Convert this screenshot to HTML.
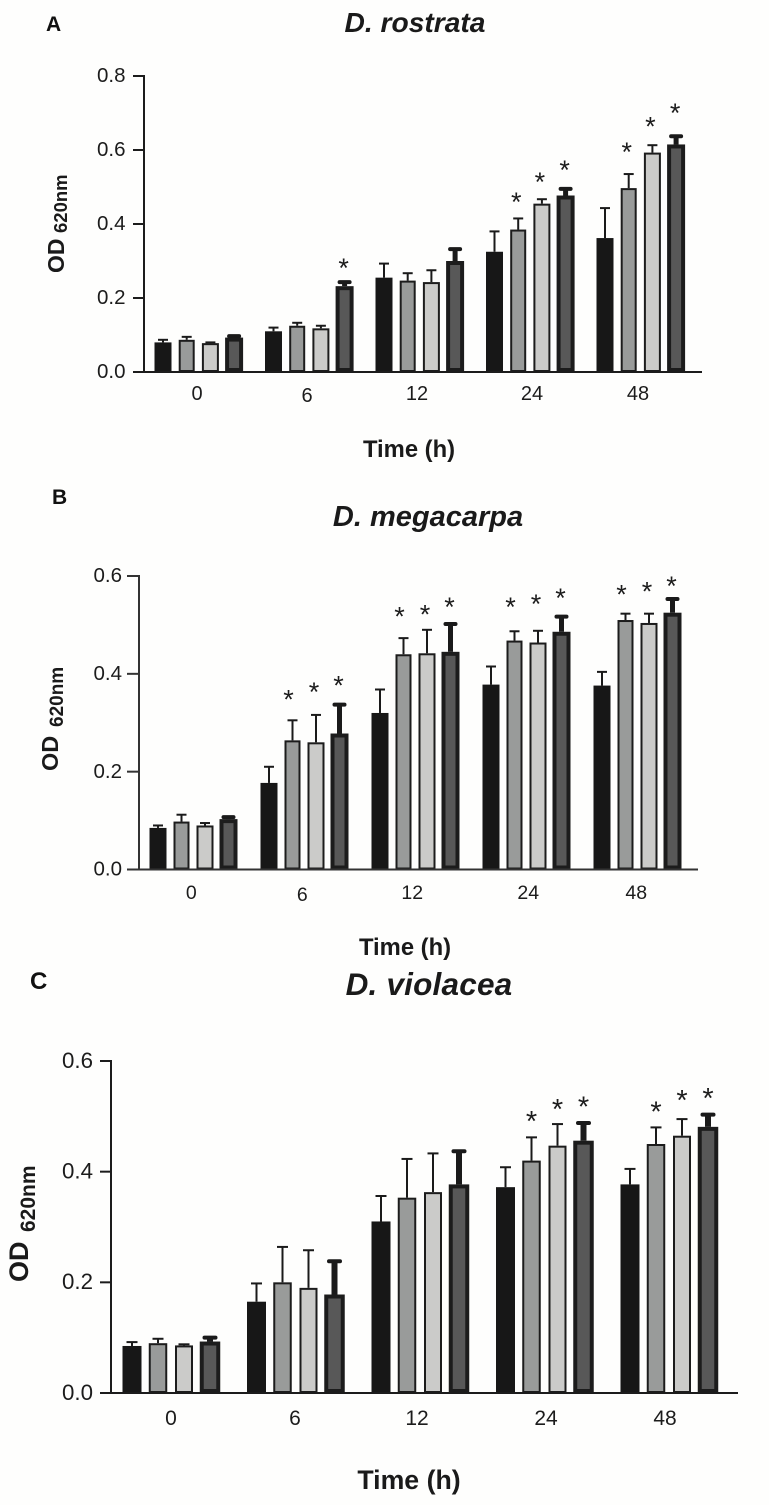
<!DOCTYPE html>
<html lang="en">
<head>
<meta charset="utf-8">
<title>OD 620nm over time for three Dichotomomyces species</title>
<style>
html,body{margin:0;padding:0;background:#fefefd;}
svg{display:block;font-family:"Liberation Sans",Arial,sans-serif;}
</style>
</head>
<body>
<svg id="fig" xmlns="http://www.w3.org/2000/svg" width="769" height="1505" viewBox="0 0 769 1505">
<rect x="0" y="0" width="769" height="1505" fill="#fefefd"/>
</svg>
<script>
// Shared categories
const timeCategories = ["0", "6", "12", "24", "48"];
const seriesNames = ["black", "gray", "light", "dark"];

// Panel A: D. rostrata (rows: series; columns: time)
const aTicks = ["0.0", "0.2", "0.4", "0.6", "0.8"];
const aMeans = [
  [0.080, 0.110, 0.255, 0.325, 0.362],
  [0.087, 0.125, 0.247, 0.385, 0.497],
  [0.078, 0.118, 0.243, 0.455, 0.593],
  [0.093, 0.232, 0.300, 0.477, 0.615]
];
const aTops = [
  [0.087, 0.120, 0.293, 0.380, 0.443],
  [0.095, 0.133, 0.267, 0.415, 0.535],
  [0.080, 0.125, 0.275, 0.467, 0.613],
  [0.097, 0.243, 0.332, 0.495, 0.637]
];
const aStars = [
  [null, null, null, null, null],
  [null, null, null, 0.468, 0.603],
  [null, null, null, 0.522, 0.672],
  [null, 0.289, null, 0.554, 0.708]
];

// Panel B: D. megacarpa
const bTicks = ["0.0", "0.2", "0.4", "0.6"];
const bMeans = [
  [0.085, 0.177, 0.320, 0.378, 0.376],
  [0.098, 0.264, 0.440, 0.468, 0.510],
  [0.090, 0.260, 0.442, 0.464, 0.504],
  [0.103, 0.278, 0.445, 0.486, 0.525]
];
const bTops = [
  [0.090, 0.210, 0.368, 0.415, 0.404],
  [0.112, 0.305, 0.473, 0.487, 0.523],
  [0.095, 0.316, 0.490, 0.488, 0.523],
  [0.107, 0.337, 0.502, 0.517, 0.553]
];
const bStars = [
  [null, null, null, null, null],
  [null, 0.354, 0.524, 0.543, 0.569],
  [null, 0.369, 0.528, 0.549, 0.575],
  [null, 0.383, 0.543, 0.561, 0.586]
];

// Panel C: D. violacea
const cTicks = ["0.0", "0.2", "0.4", "0.6"];
const cMeans = [
  [0.085, 0.165, 0.310, 0.372, 0.377],
  [0.090, 0.200, 0.353, 0.420, 0.450],
  [0.086, 0.190, 0.363, 0.447, 0.465],
  [0.093, 0.178, 0.377, 0.456, 0.481]
];
const cTops = [
  [0.092, 0.198, 0.356, 0.408, 0.405],
  [0.098, 0.264, 0.423, 0.462, 0.480],
  [0.088, 0.258, 0.433, 0.486, 0.495],
  [0.100, 0.238, 0.437, 0.488, 0.503]
];
const cStars = [
  [null, null, null, null, null],
  [null, null, null, 0.497, 0.514],
  [null, null, null, 0.519, 0.535],
  [null, null, null, 0.523, 0.539]
];

const NS = "http://www.w3.org/2000/svg";
const fig = document.getElementById("fig");
const fills = ["#171717", "#999b9a", "#cbcbc9", "#585858"];
const ink = "#1c1c1c";

function mk(tag, attrs, text) {
  const el = document.createElementNS(NS, tag);
  for (const k in attrs) el.setAttribute(k, attrs[k]);
  if (text !== undefined) el.textContent = text;
  return el;
}

function drawPanel(p, ticks, means, tops, stars) {
  const g = mk("g", {});
  
  
  fig.appendChild(g);

  const maxV = parseFloat(ticks[ticks.length - 1]);
  const yAxis = v => p.y0 - (v / maxV) * (p.y0 - p.yTop);
  const xAxis = (t, s) => p.x0 + t * p.groupStep + s * p.barStep;

  // Letter and title
  const letter = mk("text", {x: p.letterX, y: p.letterY, "font-size": p.letterSize, "font-weight": "bold", fill: "#111"}, p.letter);
  
  
  g.appendChild(letter);

  const title = mk("text", {x: p.titleX, y: p.titleY, "text-anchor": "middle", "font-size": p.titleSize, "font-weight": "bold", "font-style": "italic", "letter-spacing": p.titleSpacing, fill: "#1a1a1a"}, p.title);
  
  
  g.appendChild(title);

  // Bars, error bars, stars
  means.forEach((row, s) => {
    row.forEach((v, t) => {
      const cx = xAxis(t, s);
      const top = yAxis(tops[s][t]);
      const thick = s === 3;
      const errLine = mk("line", {x1: cx, x2: cx, y1: yAxis(v), y2: top, stroke: "#1a1a1a", "stroke-width": thick ? p.darkErr : 2});
      
      
      g.appendChild(errLine);

      const capW = p.capW;
      const cap = mk("line", {x1: cx - capW / 2, x2: cx + capW / 2, y1: top, y2: top, stroke: "#1a1a1a", "stroke-width": thick ? 4 : 2, "stroke-linecap": thick ? "round" : "butt"});
      
      
      g.appendChild(cap);

      const sw = s === 0 ? 1 : (thick ? 4 : 2);
      const w = p.barW[s];
      const y = yAxis(v);
      const bar = mk("rect", {x: cx - w / 2 + sw / 2, y: y + sw / 2, width: w - sw, height: Math.max(0, p.y0 - y - sw), fill: fills[s], stroke: s === 0 ? fills[0] : "#1c1c1c", "stroke-width": sw});
      
      
      g.appendChild(bar);

      if (stars[s][t] !== null) {
        const star = mk("text", {x: cx + p.starNudge[s], y: yAxis(stars[s][t]) + p.starSize * 0.45, "text-anchor": "middle", "font-size": p.starSize, fill: "#1c1c1c"}, "*");
        
        
        g.appendChild(star);
      }
    });
  });

  // Axes
  const yLine = mk("line", {x1: p.axisX, x2: p.axisX, y1: p.yTop - 1, y2: p.y0 + 1, stroke: p.axisColor, "stroke-width": 2});
  
  
  g.appendChild(yLine);

  const xLine = mk("line", {x1: p.axisX - p.tickLen, x2: p.xEnd, y1: p.y0, y2: p.y0, stroke: p.axisColor, "stroke-width": 2});
  
  
  g.appendChild(xLine);

  ticks.forEach(label => {
    const y = yAxis(parseFloat(label));
    const tick = mk("line", {x1: p.axisX - p.tickLen, x2: p.axisX, y1: y, y2: y, stroke: p.axisColor, "stroke-width": 2});
    
    
    g.appendChild(tick);

    const txt = mk("text", {x: p.tickLabelX, y: y + p.tickSize * 0.35 - 1, "text-anchor": "end", "font-size": p.tickSize, fill: ink}, label);
    
    
    g.appendChild(txt);
  });

  timeCategories.forEach((label, t) => {
    const cx = (xAxis(t, 0) + xAxis(t, 3)) / 2 + p.xLabelNudge[t];
    const txt = mk("text", {x: cx, y: p.xLabelY + (t === 1 ? p.sixDrop : 0), "text-anchor": "middle", "font-size": p.xSize, fill: ink}, label);
    
    
    g.appendChild(txt);
  });

  const xTitle = mk("text", {x: p.xTitleX, y: p.xTitleY, "text-anchor": "middle", "font-size": p.xTitleSize, "font-weight": "bold", fill: "#1a1a1a"}, "Time (h)");
  
  
  g.appendChild(xTitle);

  // Rotated y title
  const od = mk("text", {transform: "translate(" + p.odX + "," + p.odY + ") rotate(-90)", "font-size": p.odSize, "font-weight": "bold", fill: "#1a1a1a"}, "OD");
  
  
  g.appendChild(od);

  const sub = mk("text", {transform: "translate(" + p.subX + "," + p.subY + ") rotate(-90)", "font-size": p.subSize, "font-weight": "bold", fill: "#1a1a1a"}, "620nm");
  
  
  g.appendChild(sub);
}

drawPanel({
  id: "a", letter: "A", letterX: 46, letterY: 31, letterSize: 21,
  title: "D. rostrata", titleX: 415, titleY: 32, titleSize: 28.2, titleSpacing: 0,
  y0: 372, yTop: 76, axisX: 144, xEnd: 702, tickLen: 11, axisColor: "#1c1c1c",
  x0: 163, groupStep: 110.5, barStep: 23.7, barW: [17, 16, 17, 18], capW: 10, darkErr: 5,
  tickLabelX: 125.5, tickSize: 20.5, xLabelY: 400, sixDrop: 2, xLabelNudge: [-1.5, -2, -2.5, 2, -2.5], xSize: 20, starSize: 27, starNudge: [0, -2, -2, -1],
  xTitleX: 409, xTitleY: 457, xTitleSize: 23.8,
  odX: 64, odY: 273, odSize: 23, subX: 67, subY: 233, subSize: 18.5
}, aTicks, aMeans, aTops, aStars);

drawPanel({
  id: "b", letter: "B", letterX: 52, letterY: 504, letterSize: 21,
  title: "D. megacarpa", titleX: 428, titleY: 526, titleSize: 29, titleSpacing: 0,
  y0: 869.5, yTop: 576, axisX: 139, xEnd: 698, tickLen: 12, axisColor: "#333",
  x0: 158, groupStep: 111, barStep: 23.5, barW: [17, 16, 17, 18], capW: 10, darkErr: 5,
  tickLabelX: 122, tickSize: 20.5, xLabelY: 899, sixDrop: 2, xLabelNudge: [-2, -2, -3, 2, -1], xSize: 19.5, starSize: 27, starNudge: [0, -4, -2, -1],
  xTitleX: 405, xTitleY: 955, xTitleSize: 23.8,
  odX: 58, odY: 771, odSize: 23.5, subX: 63, subY: 727, subSize: 19
}, bTicks, bMeans, bTops, bStars);

drawPanel({
  id: "c", letter: "C", letterX: 30, letterY: 989, letterSize: 24,
  title: "D. violacea", titleX: 429, titleY: 995, titleSize: 31.5, titleSpacing: 0.2,
  y0: 1393, yTop: 1061, axisX: 111, xEnd: 738, tickLen: 11, axisColor: "#1c1c1c",
  x0: 132, groupStep: 124.5, barStep: 26, barW: [19, 18.5, 18, 20.5], capW: 11, darkErr: 6,
  tickLabelX: 93, tickSize: 22.3, xLabelY: 1425, sixDrop: 0, xLabelNudge: [0, -0.5, -3, 1.5, -4], xSize: 21, starSize: 29, starNudge: [0, 0, 0, 0],
  xTitleX: 409, xTitleY: 1489, xTitleSize: 26.7,
  odX: 28, odY: 1282, odSize: 27, subX: 35, subY: 1232, subSize: 21
}, cTicks, cMeans, cTops, cStars);
</script>
</body>
</html>
